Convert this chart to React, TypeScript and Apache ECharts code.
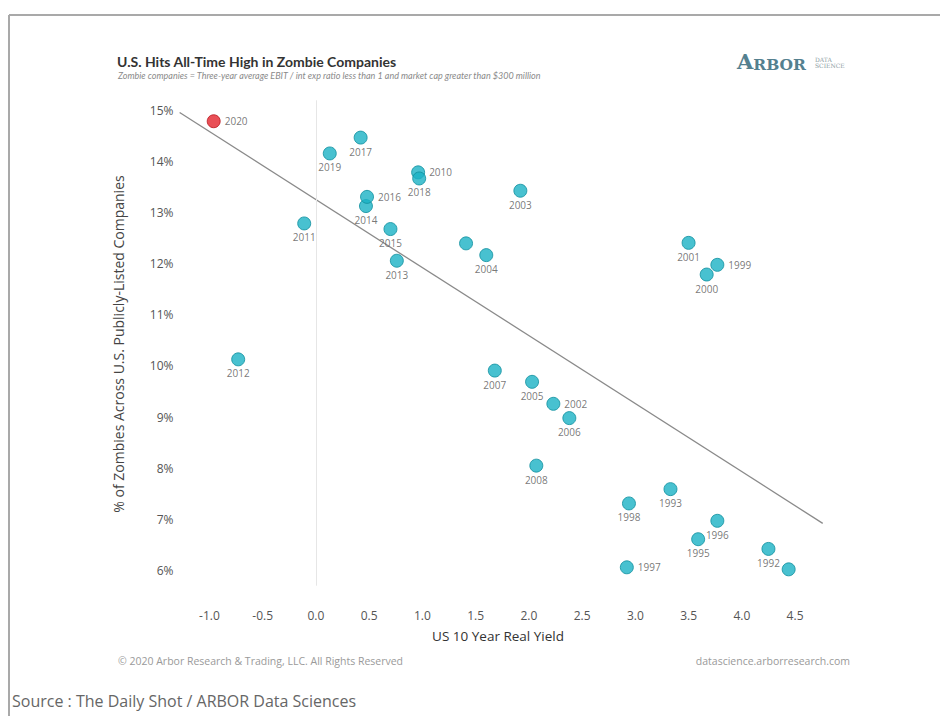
import React, { useEffect, useRef } from "react";
import * as echarts from "echarts";

// ---- data ----
const years = [
  "1992", "1993", "1994", "1995", "1996", "1997", "1998", "1999", "2000", "2001",
  "2002", "2003", "2004", "2005", "2006", "2007", "2008", "2009", "2010", "2011",
  "2012", "2013", "2014", "2015", "2016", "2017", "2018", "2019", "2020",
];
const realYield = [
  4.25, 3.33, 4.44, 3.59, 3.77, 2.92, 2.94, 3.77, 3.67, 3.5,
  2.23, 1.92, 1.6, 2.03, 2.38, 1.68, 2.07, 1.41, 0.96, -0.11,
  -0.73, 0.76, 0.47, 0.7, 0.48, 0.42, 0.97, 0.13, -0.96,
];
const zombiePct = [
  6.42, 7.59, 6.02, 6.61, 6.97, 6.06, 7.31, 11.98, 11.79, 12.41,
  9.26, 13.43, 12.17, 9.69, 8.98, 9.91, 8.05, 12.4, 13.79, 12.79,
  10.13, 12.06, 13.13, 12.68, 13.31, 14.47, 13.67, 14.16, 14.79,
];
const labelRightYears = ["2020", "2010", "2016", "2002", "1999", "1997"];
const hiddenLabelYears = ["1994", "2009"];
const highlightYear = "2020";

const trendX = [-1.28, 4.76];
const trendY = [14.96, 6.92];

const xTicks = [-1, -0.5, 0, 0.5, 1, 1.5, 2, 2.5, 3, 3.5, 4, 4.5];
const yTicks = [6, 7, 8, 9, 10, 11, 12, 13, 14, 15];

const FONT = "'Open Sans', 'Noto Sans', sans-serif";
const TFONT = "Lato, 'Open Sans', sans-serif";

export default function App() {
  const ref = useRef<HTMLDivElement>(null);

  useEffect(() => {
    if (!ref.current) return;
    const chart = echarts.init(ref.current, undefined, { renderer: "svg" });

    const points = years.map((y, i) => {
      const isHi = y === highlightYear;
      return {
        name: y,
        value: [realYield[i], zombiePct[i]],
        itemStyle: isHi
          ? { color: "#e3232c", borderColor: "#b8181f", borderWidth: 1 }
          : { color: "#1ab2c4", borderColor: "#0f8e9e", borderWidth: 1 },
        label: {
          show: !hiddenLabelYears.includes(y),
          position: labelRightYears.includes(y) ? "right" : "bottom",
          distance: labelRightYears.includes(y) ? 4 : 2,
        },
      };
    });

    chart.setOption({
      animation: false,
      backgroundColor: "#ffffff",
      grid: { left: 177.5, right: 940 - 827, top: 100.3, bottom: 716 - 585.7, containLabel: false },
      xAxis: {
        type: "value",
        min: -1.3,
        max: 4.8,
        axisLine: { show: false },
        axisTick: { show: false },
        splitLine: { show: false },
        axisLabel: {
          customValues: xTicks,
          formatter: (v: number) => v.toFixed(1),
          color: "#555",
          fontSize: 12,
          fontFamily: FONT,
          margin: 24,
        },
      },
      yAxis: {
        type: "value",
        min: 5.7,
        max: 15.2,
        axisLine: { show: false },
        axisTick: { show: false },
        splitLine: { show: false },
        axisLabel: {
          customValues: yTicks,
          formatter: (v: number) => `${Math.round(v)}%`,
          color: "#555",
          fontSize: 12,
          fontFamily: FONT,
          margin: 4,
        },
      },
      series: [
        {
          type: "line",
          data: trendX.map((x, i) => [x, trendY[i]]),
          symbol: "none",
          lineStyle: { color: "#8a8a8a", width: 1.3 },
          silent: true,
          z: 1,
          markLine: {
            silent: true,
            symbol: "none",
            label: { show: false },
            lineStyle: { color: "#e6e6e6", width: 1, type: "solid" },
            data: [{ xAxis: 0 }],
          },
        },
        {
          type: "scatter",
          symbolSize: 13,
          data: points,
          z: 3,
          label: {
            formatter: "{b}",
            color: "#555",
            fontSize: 10,
            fontFamily: FONT,
          },
        },
      ],
      graphic: [
        { type: "line", shape: { x1: 9, y1: 15, x2: 940, y2: 15 }, style: { stroke: "#a9a9a9", lineWidth: 2 } },
        { type: "line", shape: { x1: 9, y1: 15, x2: 9, y2: 716 }, style: { stroke: "#a9a9a9", lineWidth: 2 } },
        {
          type: "text", left: 117, top: 54,
          style: { text: "U.S. Hits All-Time High in Zombie Companies", fill: "#333", font: `bold 14px ${TFONT}` },
        },
        {
          type: "text", left: 118, top: 71,
          style: {
            text: "Zombie companies = Three-year average EBIT / int exp ratio less than 1 and market cap greater than $300 million",
            fill: "#8a8a8a", font: `italic 9px ${TFONT}`,
          },
        },
        {
          type: "text", left: 737, top: 51,
          style: {
            text: "{a|A}{b|RBOR}",
            rich: {
              a: { fill: "#54808f", font: `bold 21px 'DejaVu Serif', serif`, verticalAlign: "bottom" },
              b: { fill: "#54808f", font: `bold 15.5px 'DejaVu Serif', serif`, verticalAlign: "bottom" },
            },
          },
        },
        {
          type: "text", left: 815, top: 56,
          style: { text: "DATA\nSCIENCE", fill: "#8c9ca3", font: `6px 'DejaVu Serif', serif`, lineHeight: 6 },
        },
        {
          type: "text", x: 118, y: 344, rotation: Math.PI / 2,
          style: {
            text: "% of Zombies Across U.S. Publicly-Listed Companies",
            fill: "#444", font: `14px ${FONT}`, align: "center", verticalAlign: "middle",
          },
        },
        {
          type: "text", x: 498, y: 636,
          style: { text: "US 10 Year Real Yield", fill: "#333", font: `13.5px ${FONT}`, align: "center", verticalAlign: "middle" },
        },
        {
          type: "text", left: 118, top: 655,
          style: { text: "© 2020 Arbor Research & Trading, LLC. All Rights Reserved", fill: "#9a9a9a", font: `10.5px ${FONT}` },
        },
        {
          type: "text", right: 90, top: 655,
          style: { text: "datascience.arborresearch.com", fill: "#9a9a9a", font: `10.5px ${FONT}` },
        },
        {
          type: "text", left: 12, top: 693,
          style: { text: "Source : The Daily Shot / ARBOR Data Sciences", fill: "#666", font: `16px ${FONT}` },
        },
      ],
    });

    return () => chart.dispose();
  }, []);

  return (
    <div
      ref={ref}
      style={{ position: "absolute", left: 0, top: 0, width: 940, height: 716 }}
    />
  );
}
